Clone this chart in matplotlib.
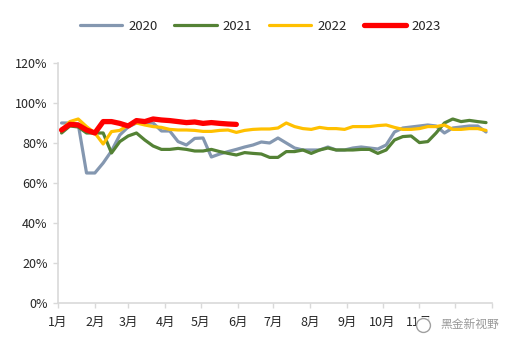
import matplotlib
matplotlib.use("Agg")
import matplotlib.pyplot as plt
from matplotlib.lines import Line2D
from matplotlib.ticker import PercentFormatter

plt.rcParams["font.family"] = ["Noto Sans CJK SC", "DejaVu Sans"]

# weekly utilisation rate (%), one value per week
rate_2020 = [90, 90, 89.5, 65, 65, 70, 76, 84, 88, 90, 90, 90, 86, 86, 80.7, 79,
             82.3, 82.5, 73, 74.5, 75.7, 76.8, 78, 79, 80.5, 80, 82.5, 80, 77.5,
             76.5, 76.5, 76.5, 78, 76.5, 76.5, 77.5, 78, 77.5, 77, 79, 85.5, 87.5,
             88, 88.5, 89, 88.5, 85, 87.5, 88, 88.5, 88.5, 85.5]
rate_2021 = [85, 88.5, 88, 85, 85, 85, 75, 80.7, 83.5, 85, 81.5, 78.5, 76.8, 76.8,
             77.3, 76.8, 76, 76, 76.8, 75.7, 74.8, 74, 75.2, 74.8, 74.5, 72.8, 72.8,
             75.7, 75.7, 76.5, 74.8, 76.5, 77.5, 76.5, 76.5, 76.5, 76.8, 76.8, 74.8,
             76.5, 81.5, 83.2, 83.5, 80.2, 80.7, 85, 90, 92, 90.7, 91.3, 90.7, 90.2]
rate_2022 = [86.5, 90.7, 92, 88.2, 85, 79.5, 85.7, 86.3, 89, 90, 89, 88.2, 87.8,
             86.8, 86.5, 86.5, 86.3, 85.8, 85.8, 86.3, 86.5, 85.3, 86.3, 86.8, 87,
             87, 87.5, 90, 88.2, 87.2, 86.8, 87.8, 87.2, 87.2, 86.8, 88.2, 88.2,
             88.2, 88.7, 89, 87.8, 86.8, 86.8, 87.2, 88.2, 88.2, 89, 86.8, 86.8,
             87.2, 87.2, 86.3]
rate_2023 = [86.5, 89.3, 89, 86.5, 85, 90.7, 90.7, 89.8, 88.5, 91.2, 90.7, 92,
             91.5, 91.2, 90.7, 90.2, 90.5, 89.8, 90.2, 89.8, 89.5, 89.3]

# the December label sits under the watermark, so it is left blank
month_labels = ["1月", "2月", "3月", "4月", "5月", "6月",
                "7月", "8月", "9月", "10月", "11月", ""]
month_days = [31, 28, 31, 30, 31, 30, 31, 31, 30, 31, 30, 31]


def week_days(values):
    # day of year for each weekly reading
    return [3 + 7 * i for i in range(len(values))]


fig = plt.figure(figsize=(5.15, 3.48), dpi=100)
ax = fig.add_axes([0.1126, 0.1293, 0.8427, 0.6897])

series = [
    ("2020", rate_2020, "#8497B0", 2.3),
    ("2021", rate_2021, "#548235", 2.3),
    ("2022", rate_2022, "#FFC000", 2.3),
    ("2023", rate_2023, "#FF0000", 3.8),
]
for name, vals, color, lw in series:
    ax.plot(week_days(vals), vals, color=color, lw=lw, label=name,
            solid_joinstyle="round", solid_capstyle="round")

month_starts = [0]
for d in month_days:
    month_starts.append(month_starts[-1] + d)

ax.set_xlim(0, 365)
ax.set_ylim(0, 120)
ax.set_xticks(month_starts)
ax.set_xticklabels(month_labels + [""])
ax.set_yticks(range(0, 121, 20))
ax.yaxis.set_major_formatter(PercentFormatter(xmax=100, decimals=0))

for side in ["top", "right"]:
    ax.spines[side].set_visible(False)
for side in ["left", "bottom"]:
    ax.spines[side].set_color("#D9D9D9")
    ax.spines[side].set_linewidth(1.2)
ax.tick_params(axis="both", colors="#D9D9D9", labelcolor="#262626",
               labelsize=9, length=3.5, width=1)
ax.tick_params(axis="x", pad=6)
ax.tick_params(axis="y", pad=4)

leg = ax.legend(loc="center", bbox_to_anchor=(0.506, 0.925),
                bbox_transform=fig.transFigure, ncol=4, frameon=False,
                fontsize=9.5, handlelength=3.2, handletextpad=0.45,
                columnspacing=1.3)
for text in leg.get_texts():
    text.set_color("#262626")

# watermark in the lower right corner
fig.text(0.855, 0.067, "黑金新视野", fontsize=8.5, color="#9a9a9a",
         va="center", ha="left",
         bbox=dict(facecolor="white", edgecolor="none", alpha=0.9,
                   boxstyle="square,pad=0.25"))
fig.patches.append(plt.Rectangle((0.808, 0.045), 0.045, 0.045,
                                 transform=fig.transFigure,
                                 facecolor="white", edgecolor="none",
                                 alpha=0.85))
fig.add_artist(Line2D([0.821], [0.067], marker="o", markersize=10,
                      markerfacecolor="white", markeredgecolor="#a0a0a0",
                      markeredgewidth=1, transform=fig.transFigure))

fig.savefig("out.png", dpi=100)
